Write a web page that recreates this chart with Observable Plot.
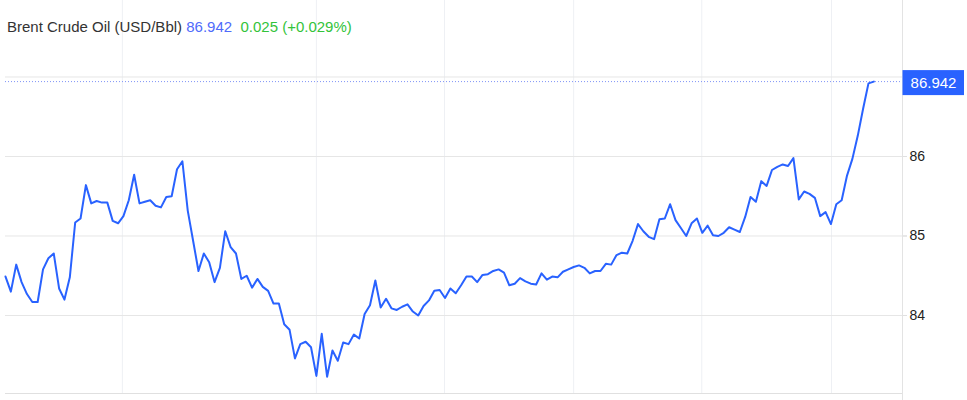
<!DOCTYPE html>
<html>
<head>
<meta charset="utf-8">
<script src="https://cdn.jsdelivr.net/npm/d3@7"></script>
<script src="https://cdn.jsdelivr.net/npm/@observablehq/plot@0.6"></script>
<style>
  html, body { margin: 0; padding: 0; background: #fff; }
  #wrap { position: relative; width: 967px; height: 400px; overflow: hidden; }
  #title { position: absolute; left: 7px; top: 18px; font: 15px "Liberation Sans", Arial, sans-serif; color: #333; white-space: pre; line-height: 18px; }
  #title .last { color: #4f6bfb; }
  #title .chg { color: #33c33a; }
</style>
</head>
<body>
<div id="wrap">
  <div id="chart"></div>
  <div id="title">Brent Crude Oil (USD/Bbl) <span class="last">86.942</span>  <span class="chg">0.025 (+0.029%)</span></div>
</div>
<script>
// Price series (one point per period)
const prices = [
  84.49, 84.30, 84.64, 84.42, 84.27, 84.17, 84.17, 84.58, 84.72, 84.78,
  84.34, 84.20, 84.48, 85.17, 85.22, 85.64, 85.41, 85.44, 85.42, 85.42,
  85.19, 85.16, 85.25, 85.45, 85.77, 85.41, 85.43, 85.45, 85.38, 85.36,
  85.49, 85.50, 85.84, 85.94, 85.32, 84.94, 84.56, 84.78, 84.67, 84.42,
  84.60, 85.06, 84.86, 84.78, 84.46, 84.50, 84.35, 84.46, 84.36, 84.31,
  84.15, 84.15, 83.89, 83.82, 83.46, 83.64, 83.67, 83.60, 83.24, 83.77,
  83.23, 83.56, 83.43, 83.66, 83.64, 83.76, 83.71, 84.02, 84.13, 84.44,
  84.10, 84.21, 84.09, 84.07, 84.11, 84.14, 84.05, 84.00, 84.12, 84.19,
  84.31, 84.32, 84.22, 84.34, 84.28, 84.38, 84.49, 84.49, 84.42, 84.51,
  84.52, 84.56, 84.58, 84.54, 84.38, 84.40, 84.47, 84.43, 84.40, 84.39,
  84.53, 84.45, 84.49, 84.48, 84.55, 84.58, 84.61, 84.63, 84.60, 84.53,
  84.56, 84.56, 84.65, 84.64, 84.76, 84.79, 84.78, 84.94, 85.15, 85.06,
  84.99, 84.96, 85.21, 85.22, 85.40, 85.20, 85.10, 85.00, 85.16, 85.22,
  85.04, 85.13, 85.01, 85.00, 85.04, 85.11, 85.08, 85.05, 85.24, 85.49,
  85.43, 85.69, 85.63, 85.83, 85.87, 85.90, 85.88, 85.98, 85.46, 85.56,
  85.53, 85.48, 85.25, 85.30, 85.15, 85.40, 85.45, 85.76, 85.97, 86.26,
  86.60, 86.92, 86.942
];
// Vertical grid positions (period index)
const xGridTicks = [21.8, 58, 81.9, 106, 129.9, 154.1];
// Horizontal grid values and visible y tick labels (87 is hidden behind the last-price tag)
const yGridTicks = [84, 85, 86, 87];
const yLabelTicks = [84, 85, 86];
const lastValue = 86.942;
const lastLabel = "86.942";

const data = prices.map((v, i) => ({i, v}));
const xMax = 167.35;
const yDomain = [83.019, 87.962];

const chart = Plot.plot({
  width: 967,
  height: 400,
  marginLeft: 5,
  marginRight: 65,
  marginTop: 0,
  marginBottom: 7,
  style: {fontFamily: "'Liberation Sans', Arial, sans-serif", background: "#fff"},
  x: {domain: [0, xMax], axis: null},
  y: {domain: yDomain, axis: null},
  marks: [
    Plot.gridX(xGridTicks, {stroke: "#eef0f4", strokeOpacity: 1, y1: yDomain[0], y2: yDomain[1]}),
    Plot.gridY(yGridTicks, {stroke: "#e6e6e6", strokeOpacity: 1}),
    Plot.ruleY([yDomain[0]], {stroke: "#e0e0e0"}),
    Plot.ruleX([xMax], {stroke: "#e3e3e3", insetBottom: -7}),
    Plot.axisY(yGridTicks, {
      anchor: "right",
      tickSize: 4,
      stroke: "#e0e0e0",
      text: null,
      label: null
    }),
    Plot.axisY(yLabelTicks, {
      anchor: "right",
      tickSize: 4,
      tickPadding: 3,
      stroke: "#e0e0e0",
      fill: "#222",
      fontSize: 14,
      textAnchor: "start",
      label: null,
      tickFormat: d => String(d)
    }),
    Plot.ruleY([lastValue], {stroke: "#7f93f7", strokeDasharray: "1,2", strokeWidth: 1}),
    Plot.line(data, {x: "i", y: "v", stroke: "#2962ff", strokeWidth: 2, strokeLinejoin: "round"}),
    Plot.rect([lastValue], {
      x1: xMax, x2: xMax, y1: d => d, y2: d => d,
      insetLeft: 0.5, insetRight: -62, insetTop: -11, insetBottom: -14,
      fill: "#2962ff"
    }),
    Plot.text([lastValue], {
      x: xMax, y: d => d, text: () => lastLabel,
      dx: 31, dy: 2, fill: "#fff", fontSize: 15, textAnchor: "middle"
    })
  ]
});
document.getElementById("chart").appendChild(chart);
</script>
</body>
</html>
